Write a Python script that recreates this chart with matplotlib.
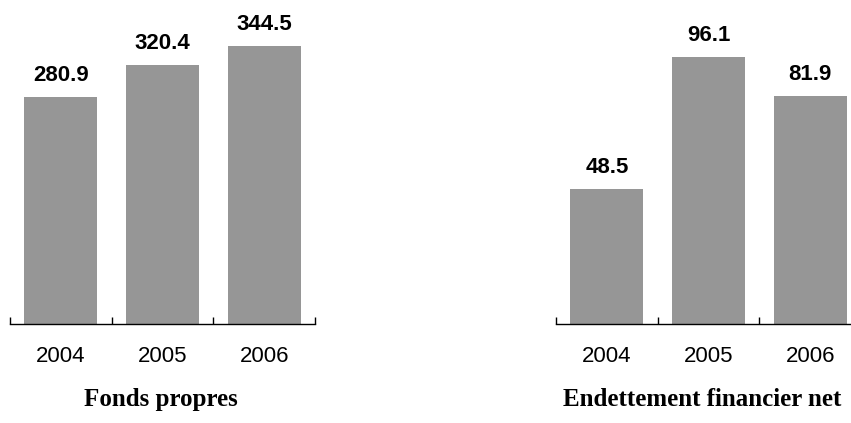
import numpy as np
import matplotlib
matplotlib.use("Agg")
import matplotlib.pyplot as plt

years = ["2004", "2005", "2006"]
fonds_propres = [280.9, 320.4, 344.5]
endettement = [48.5, 96.1, 81.9]
titles = ["Fonds propres", "Endettement financier net"]

W, H = 851, 423
fig = plt.figure(figsize=(W / 100, H / 100), dpi=100, facecolor="w")

bar_color = "#969696"
sans = "Liberation Sans"
serif = "Liberation Serif"


def panel(x0, values, ymax, title, title_x):
    ax = fig.add_axes([x0 / W, (H - 324) / H, 305 / W, 324 / H])
    x = np.arange(len(values))
    bars = ax.bar(x, values, width=0.72, color=bar_color)
    ax.bar_label(bars, labels=[f"{v:.1f}" for v in values], padding=8,
                 fontsize=16, fontweight="bold", family=sans)
    ax.set_xlim(-0.5, len(values) - 0.5)
    ax.set_ylim(0, ymax)
    for s in ["left", "right", "top"]:
        ax.spines[s].set_visible(False)
    ax.spines["bottom"].set_linewidth(1.0)
    ax.set_yticks([])
    ax.set_xticks(np.arange(len(values) + 1) - 0.5)
    ax.set_xticklabels([])
    ax.tick_params(axis="x", which="major", direction="in", length=5, width=1)
    ax.set_xticks(x, minor=True)
    ax.set_xticklabels(years, minor=True, fontsize=16, family=sans)
    ax.tick_params(axis="x", which="minor", length=0, pad=16)
    fig.text(title_x / W, 1 - 399 / H, title, ha="center", va="center",
             fontsize=18, fontweight="bold", family=serif)
    return ax


panel(10, fonds_propres, 324 / 0.808, titles[0], 161)
panel(556, endettement, 324 / 2.78, titles[1], 702)

plt.savefig("out.png", dpi=100)
